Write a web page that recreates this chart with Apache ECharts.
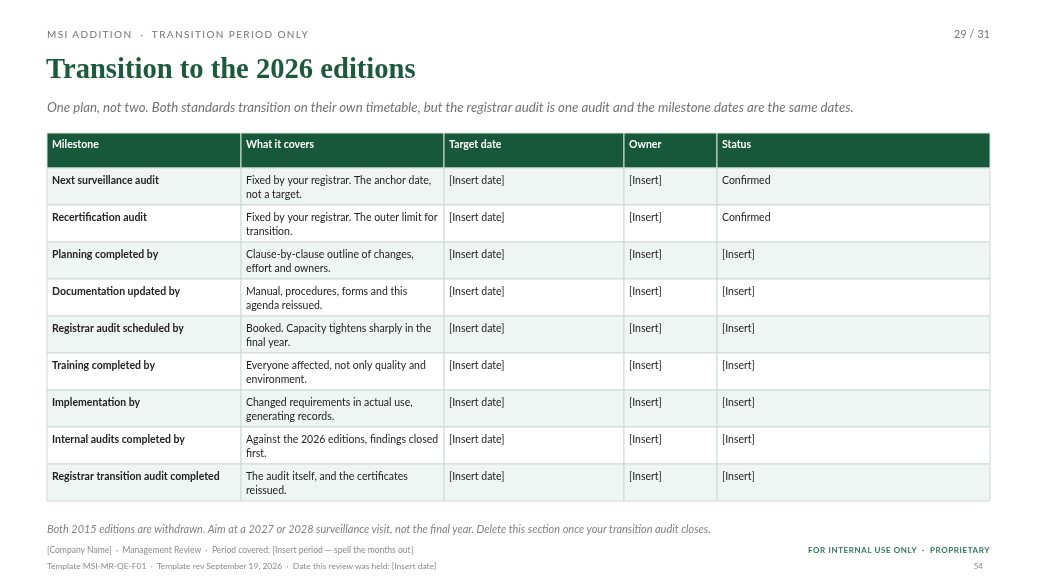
<!DOCTYPE html>
<html>
<head>
<meta charset="utf-8">
<script src="https://cdn.jsdelivr.net/npm/echarts@6/dist/echarts.min.js"></script>
<style>
    html, body { margin: 0; padding: 0; background: #fff; }
    body { width: 1041px; height: 585px; position: relative; font-family: Lato, "Open Sans", sans-serif; overflow: hidden; }
    .t { position: absolute; white-space: nowrap; }
    #kicker { left: 47px; top: 28px; font-size: 10px; letter-spacing: 1.38px; color: #737373; }
    #pageno { right: 51px; top: 28px; font-size: 10.5px; letter-spacing: 0.2px; color: #737373; }
    #title { left: 46px; top: 53px; font-family: "Liberation Serif", "DejaVu Serif", serif; font-weight: bold; font-size: 28.6px; color: #1b5a3d; }
    #lede { left: 47px; top: 99px; font-size: 13.25px; font-style: italic; color: #737373; }
    #note { left: 47px; top: 522px; font-size: 10.95px; font-style: italic; color: #808080; }
    #foot1 { left: 47px; top: 545px; font-size: 8.55px; color: #8a8a8a; }
    #foot2 { left: 47px; top: 561px; font-size: 8.45px; color: #8a8a8a; }
    #prop { right: 51px; top: 545px; font-size: 8px; font-weight: bold; letter-spacing: 0.6px; color: #2f7a55; }
    #num { right: 58px; top: 561px; font-size: 8px; color: #8a8a8a; }
    #chart { position: absolute; left: 0; top: 0; width: 1041px; height: 585px; }
</style>
</head>
<body>
<div id="chart"></div>
<div class="t" id="kicker">MSI ADDITION &nbsp;·&nbsp; TRANSITION PERIOD ONLY</div>
<div class="t" id="pageno">29 / 31</div>
<div class="t" id="title">Transition to the 2026 editions</div>
<div class="t" id="lede">One plan, not two. Both standards transition on their own timetable, but the registrar audit is one audit and the milestone dates are the same dates.</div>
<div class="t" id="note">Both 2015 editions are withdrawn. Aim at a 2027 or 2028 surveillance visit, not the final year. Delete this section once your transition audit closes.</div>
<div class="t" id="foot1">[Company Name] &nbsp;·&nbsp; Management Review &nbsp;·&nbsp; Period covered: [Insert period — spell the months out]</div>
<div class="t" id="foot2">Template MSI-MR-QE-F01 &nbsp;·&nbsp; Template rev September 19, 2026 &nbsp;·&nbsp; Date this review was held: [Insert date]</div>
<div class="t" id="prop">FOR INTERNAL USE ONLY &nbsp;·&nbsp; PROPRIETARY</div>
<div class="t" id="num">54</div>
<script>
// table content
var columns = ['Milestone', 'What it covers', 'Target date', 'Owner', 'Status'];
var milestones = [
    'Next surveillance audit',
    'Recertification audit',
    'Planning completed by',
    'Documentation updated by',
    'Registrar audit scheduled by',
    'Training completed by',
    'Implementation by',
    'Internal audits completed by',
    'Registrar transition audit completed'
];
var covers = [
    'Fixed by your registrar. The anchor date,\nnot a target.',
    'Fixed by your registrar. The outer limit for\ntransition.',
    'Clause-by-clause outline of changes,\neffort and owners.',
    'Manual, procedures, forms and this\nagenda reissued.',
    'Booked. Capacity tightens sharply in the\nfinal year.',
    'Everyone affected, not only quality and\nenvironment.',
    'Changed requirements in actual use,\ngenerating records.',
    'Against the 2026 editions, findings closed\nfirst.',
    'The audit itself, and the certificates\nreissued.'
];
var targetDates = ['[Insert date]', '[Insert date]', '[Insert date]', '[Insert date]', '[Insert date]',
    '[Insert date]', '[Insert date]', '[Insert date]', '[Insert date]'];
var owners = ['[Insert]', '[Insert]', '[Insert]', '[Insert]', '[Insert]',
    '[Insert]', '[Insert]', '[Insert]', '[Insert]'];
var statuses = ['Confirmed', 'Confirmed', '[Insert]', '[Insert]', '[Insert]',
    '[Insert]', '[Insert]', '[Insert]', '[Insert]'];

// row 0 is the header, rows 1..9 are milestones
var rowKeys = ['header'].concat(milestones);
var rows = [columns];
milestones.forEach(function (m, i) {
    rows.push([m, covers[i], targetDates[i], owners[i], statuses[i]]);
});

var colShare = [194, 203, 180, 93, 273];
var shareSum = colShare.reduce(function (a, b) { return a + b; }, 0);

function renderRow(params, api) {
    var r = api.value(0);
    var cells = rows[r];
    var left = api.coord([0, r]);
    var right = api.coord([1, r]);
    var h = api.size([0, 1])[1];
    var total = right[0] - left[0];
    var top = left[1] - h / 2;
    var textY = top + 6;
    //header sits a little lower than the body band
    if (r === 0) { top += 2; h -= 2; textY = top + 5; }
    var children = [];
    var x = left[0];
    for (var c = 0; c < cells.length; c++) {
        var w = total * colShare[c] / shareSum;
        var fill = r === 0 ? '#17583b' : (r % 2 === 1 ? '#eff5f2' : '#ffffff');
        children.push({
            type: 'rect',
            shape: { x: x, y: top, width: w, height: h },
            style: { fill: fill, stroke: r === 0 ? '#d5e3dc' : '#d0d8d4', lineWidth: 1 }
        });
        children.push({
            type: 'text',
            x: x + 5,
            y: textY,
            style: {
                text: cells[c],
                fill: r === 0 ? '#ffffff' : '#222222',
                font: (r === 0 || c === 0 ? 'bold ' : '') + '10.5px Lato, sans-serif',
                lineHeight: 14,
                verticalAlign: 'top',
                align: 'left'
            }
        });
        x += w;
    }
    return { type: 'group', children: children };
}

var chart = echarts.init(document.getElementById('chart'), null, { renderer: 'canvas' });
chart.setOption({
    animation: false,
    grid: { left: 47, right: 51, top: 131, height: 370 },
    xAxis: { type: 'value', min: 0, max: 1, show: false },
    yAxis: { type: 'category', data: rowKeys, inverse: true, show: false },
    series: [{
        type: 'custom',
        renderItem: renderRow,
        encode: { y: 0 },
        data: rowKeys.map(function (k, i) { return [i]; })
    }]
});
</script>
</body>
</html>
